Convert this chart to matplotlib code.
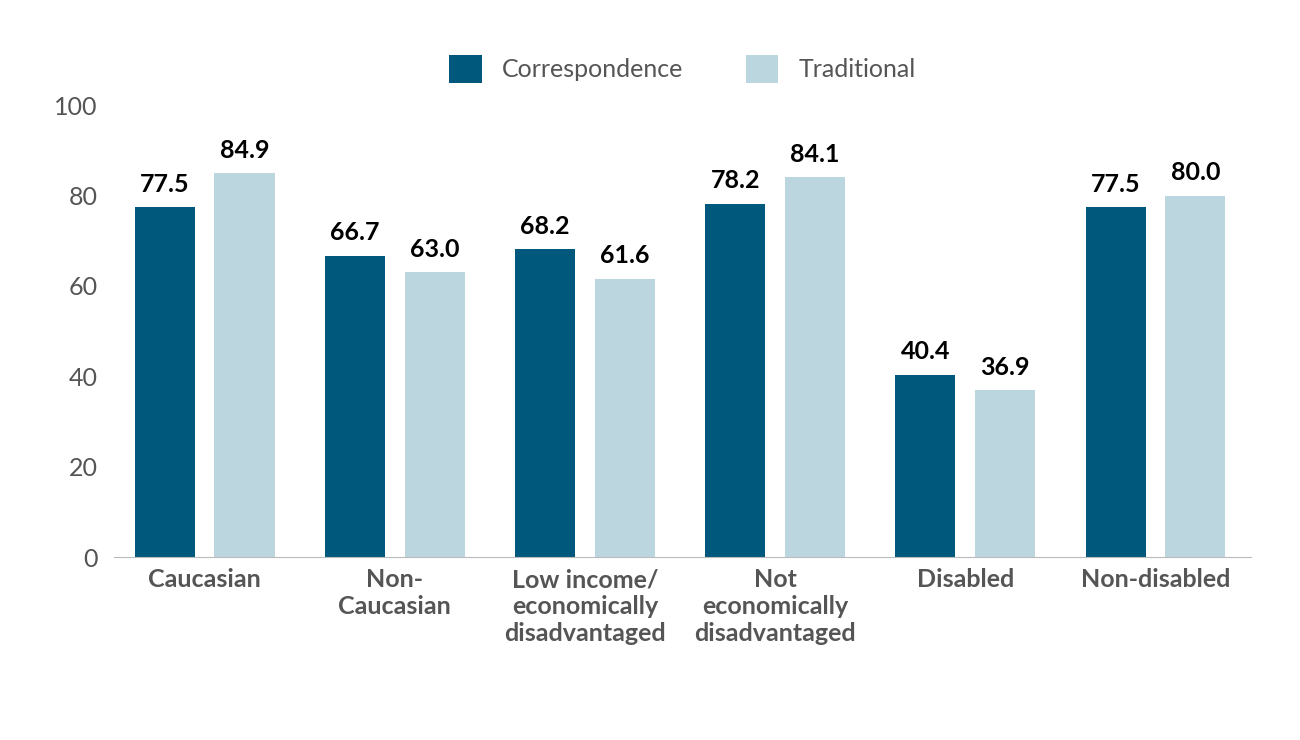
import numpy as np
import matplotlib
matplotlib.use("Agg")
import matplotlib.pyplot as plt

plt.rcParams['font.family'] = ['Lato', 'DejaVu Sans']

categories = ["Caucasian", "Non-\nCaucasian", "Low income/\neconomically\ndisadvantaged",
              "Not\neconomically\ndisadvantaged", "Disabled", "Non-disabled"]
correspondence = [77.5, 66.7, 68.2, 78.2, 40.4, 77.5]
traditional = [84.9, 63.0, 61.6, 84.1, 36.9, 80.0]

dark = "#00587c"
light = "#bcd6e0"

fig = plt.figure(figsize=(13, 7.4), dpi=100)
ax = fig.add_axes([0.088, 0.247, 0.874, 0.611])

x = np.arange(len(categories))
w = 0.316
off = 0.21
b1 = ax.bar(x - off, correspondence, w, color=dark, label="Correspondence")
b2 = ax.bar(x + off, traditional, w, color=light, label="Traditional")

for bars, vals in ((b1, correspondence), (b2, traditional)):
    for b, v in zip(bars, vals):
        ax.text(b.get_x() + b.get_width() / 2, v + 2.5, f"{v:.1f}", ha="center", va="bottom",
                fontsize=18, fontweight="bold", color="black")

ax.set_xlim(-0.474, 5.5)
ax.set_ylim(0, 100)
ax.set_yticks([0, 20, 40, 60, 80, 100])
ax.set_xticks(x)
ax.set_xticklabels(categories, fontsize=18, fontweight="bold", color="#555555", linespacing=1.2)
ax.tick_params(axis="y", labelsize=18, labelcolor="#555555", length=0, pad=12)
ax.tick_params(axis="x", length=0, pad=8)
for s in ("top", "right", "left"):
    ax.spines[s].set_visible(False)
ax.spines["bottom"].set_color("#bbbbbb")

ax.legend(loc="lower center", bbox_to_anchor=(0.5, 1.0), ncol=2, frameon=False, fontsize=18,
          labelcolor="#555555", handlelength=1.3, handleheight=1.3, columnspacing=2.5)

fig.savefig("out.png", dpi=100)
